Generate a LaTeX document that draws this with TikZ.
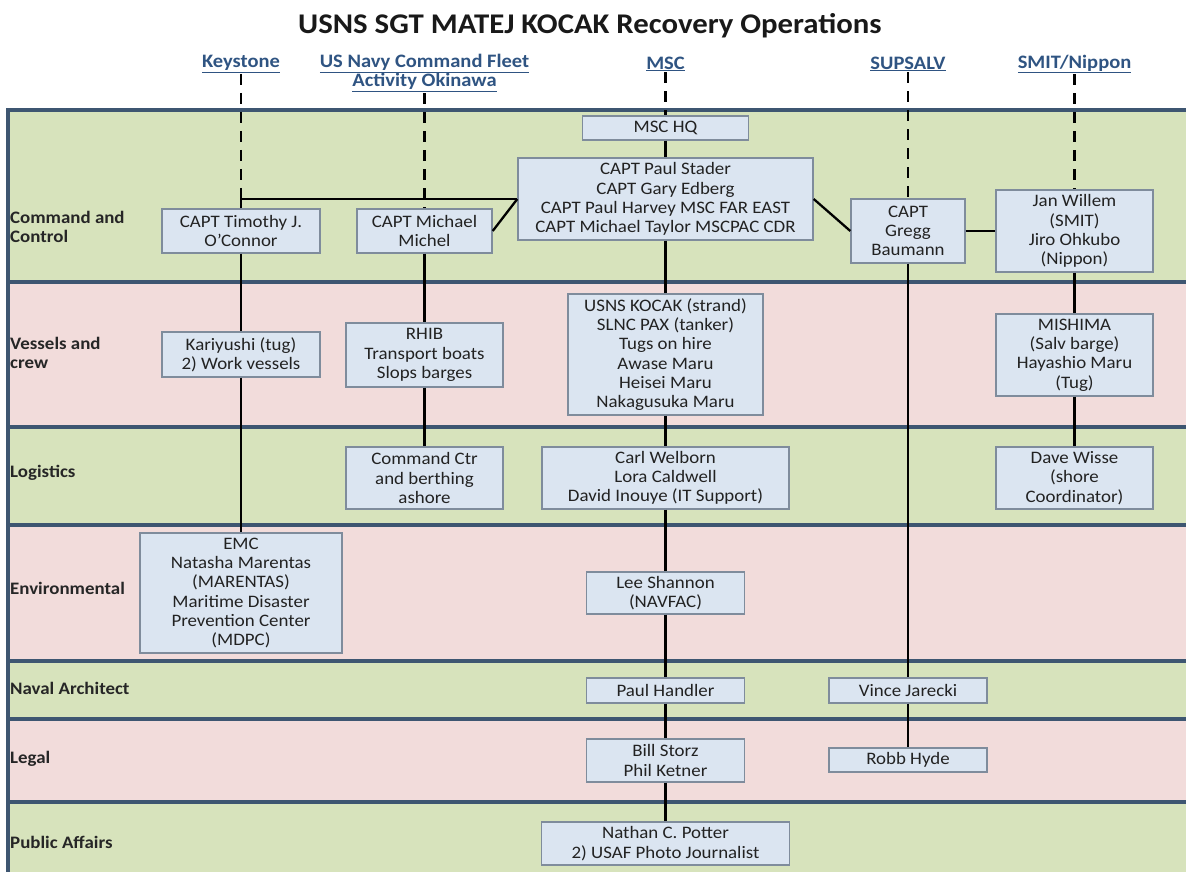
\documentclass[tikz,border=0pt]{standalone}
\usepackage{fontspec}
\setmainfont{Carlito}[FakeStretch=1.08]
\definecolor{lanegreen}{RGB}{215, 227, 188}
\definecolor{lanepink}{RGB}{242, 220, 219}
\definecolor{laneline}{RGB}{62, 86, 113}
\definecolor{boxfill}{RGB}{219, 229, 241}
\definecolor{boxline}{RGB}{127, 140, 156}
\definecolor{boxtext}{RGB}{34, 34, 34}
\definecolor{headblue}{RGB}{47, 84, 130}
\tikzset{
  orgbox/.style={draw=boxline, fill=boxfill, line width=1.4pt, align=center, inner sep=0pt, text=boxtext, font=\fontsize{17.5}{19.3}\selectfont},
  lanelabel/.style={anchor=west, align=left, inner sep=0pt, text=black!85, font=\fontsize{17.5}{19.3}\selectfont\bfseries},
  orghead/.style={align=center, inner sep=1pt, text=headblue, font=\fontsize{19}{19.5}\selectfont\bfseries},
  link/.style={line width=2.3pt},
  feed/.style={line width=2.3pt, dash pattern=on 11pt off 8pt},
}

\begin{document}
\begin{tikzpicture}[x=1pt, y=-1pt]
  \useasboundingbox (0,0) rectangle (1186,872);

  % Lanes
  \foreach \ytop/\ybot/\lanecol/\ymid/\lanetext in {
      110/282/lanegreen/227/{Command and\\Control},
      282/427/lanepink/353/{Vessels and\\crew},
      427/525/lanegreen/473/{Logistics},
      525/661/lanepink/588/{Environmental},
      661/719/lanegreen/688/{Naval Architect},
      719/802/lanepink/759/{Legal},
      802/872/lanegreen/842/{Public Affairs}} {
    \fill[\lanecol] (8,\ytop) rectangle (1186,\ybot);
    \node[lanelabel] at (10,\ymid) {\lanetext};
  }
  \foreach \yline in {110, 282, 427, 525, 661, 719, 802}
    \draw[laneline, line width=3.5pt] (8,\yline) -- (1186,\yline);
  \draw[laneline, line width=3.5pt] (8,108.25) -- (8,872);

  % Title and organisations
  \node[font=\fontsize{28.5}{30}\selectfont\bfseries, text=black!90] (title) at (590,26) {USNS SGT MATEJ KOCAK Recovery Operations};
  \node[orghead] (hdkey) at (241,64) {\underline{Keystone}};
  \node[orghead] (hdnavy) at (424.5,73) {\underline{US Navy Command Fleet}\\\underline{Activity Okinawa}};
  \node[orghead] (hdmsc) at (665.5,64) {\underline{MSC}};
  \node[orghead] (hdsup) at (908,64) {\underline{SUPSALV}};
  \node[orghead] (hdsmit) at (1074.5,64) {\underline{SMIT/Nippon}};

  % Command and Control
  \node[orgbox, minimum width=166pt, minimum height=24pt] (hq) at (665.5,128) {MSC HQ};
  \node[orgbox, minimum width=295pt, minimum height=82pt] (stader) at (665.5,199) {CAPT Paul Stader\\CAPT Gary Edberg\\CAPT Paul Harvey MSC FAR EAST\\CAPT Michael Taylor MSCPAC CDR};
  \node[orgbox, minimum width=158pt, minimum height=44pt] (tim) at (241,231) {CAPT Timothy J.\\O'Connor};
  \node[orgbox, minimum width=135pt, minimum height=44pt] (michel) at (424.5,231) {CAPT Michael\\Michel};
  \node[orgbox, minimum width=114pt, minimum height=64pt] (gregg) at (908,231) {CAPT\\Gregg\\Baumann};
  \node[orgbox, minimum width=157pt, minimum height=82pt] (jan) at (1074.5,231) {Jan Willem\\(SMIT)\\Jiro Ohkubo\\(Nippon)};

  % Vessels and crew
  \node[orgbox, minimum width=158pt, minimum height=45pt] (kari) at (241,354.5) {Kariyushi (tug)\\2) Work vessels};
  \node[orgbox, minimum width=157pt, minimum height=64pt] (rhib) at (424.5,355) {RHIB\\Transport boats\\Slops barges};
  \node[orgbox, minimum width=195pt, minimum height=121pt] (kocak) at (665.5,354.5) {USNS KOCAK (strand)\\SLNC PAX (tanker)\\Tugs on hire\\Awase Maru\\Heisei Maru\\Nakagusuka Maru};
  \node[orgbox, minimum width=157pt, minimum height=82pt] (mishima) at (1074.5,355) {MISHIMA\\(Salv barge)\\Hayashio Maru\\(Tug)};

  % Logistics
  \node[orgbox, minimum width=157pt, minimum height=62pt] (cmdctr) at (424.5,478) {Command Ctr\\and berthing\\ashore};
  \node[orgbox, minimum width=247pt, minimum height=62pt] (welborn) at (665.5,478) {Carl Welborn\\Lora Caldwell\\David Inouye (IT Support)};
  \node[orgbox, minimum width=157pt, minimum height=62pt] (wisse) at (1074.5,478) {Dave Wisse\\(shore\\Coordinator)};

  % Environmental
  \node[orgbox, minimum width=202pt, minimum height=120pt] (emc) at (241,593) {EMC\\Natasha Marentas\\(MARENTAS)\\Maritime Disaster\\Prevention Center\\(MDPC)};
  \node[orgbox, minimum width=158pt, minimum height=42pt] (shannon) at (665.5,593) {Lee Shannon\\(NAVFAC)};

  % Naval Architect, Legal, Public Affairs
  \node[orgbox, minimum width=158pt, minimum height=25pt] (handler) at (665.5,690.5) {Paul Handler};
  \node[orgbox, minimum width=158pt, minimum height=25pt] (jarecki) at (908,690.5) {Vince Jarecki};
  \node[orgbox, minimum width=158pt, minimum height=43pt] (storz) at (665.5,760.5) {Bill Storz\\Phil Ketner};
  \node[orgbox, minimum width=158pt, minimum height=24pt] (hyde) at (908,760) {Robb Hyde};
  \node[orgbox, minimum width=248pt, minimum height=43pt] (potter) at (665.5,843.5) {Nathan C. Potter\\2) USAF Photo Journalist};

  % Dashed links to the organisations
  \coordinate (keycorner) at (tim.north |- stader.west);
  \draw[feed] (hdkey.south) -- (keycorner);
  \draw[feed] (hdnavy.south) -- (michel.north);
  \draw[feed] (hdmsc.south) -- (hq.north);
  \draw[feed] (hdsup.south) -- (gregg.north);
  \draw[feed] (hdsmit.south) -- (jan.north);

  % Solid links
  \draw[link] (tim.north) |- (stader.west);
  \draw[link] (michel.east) -- (stader.west);
  \draw[link] (stader.east) -- (gregg.west);
  \draw[link] (gregg.east) -- (jan.west);
  \draw[link] (hq.south) -- (stader.north);
  \draw[link] (tim.south) -- (kari.north);
  \draw[link] (kari.south) -- (emc.north);
  \draw[link] (michel.south) -- (rhib.north);
  \draw[link] (rhib.south) -- (cmdctr.north);
  \draw[link] (stader.south) -- (kocak.north);
  \draw[link] (kocak.south) -- (welborn.north);
  \draw[link] (welborn.south) -- (shannon.north);
  \draw[link] (shannon.south) -- (handler.north);
  \draw[link] (handler.south) -- (storz.north);
  \draw[link] (storz.south) -- (potter.north);
  \draw[link] (gregg.south) -- (jarecki.north);
  \draw[link] (jarecki.south) -- (hyde.north);
  \draw[link] (jan.south) -- (mishima.north);
  \draw[link] (mishima.south) -- (wisse.north);
\end{tikzpicture}
\end{document}
